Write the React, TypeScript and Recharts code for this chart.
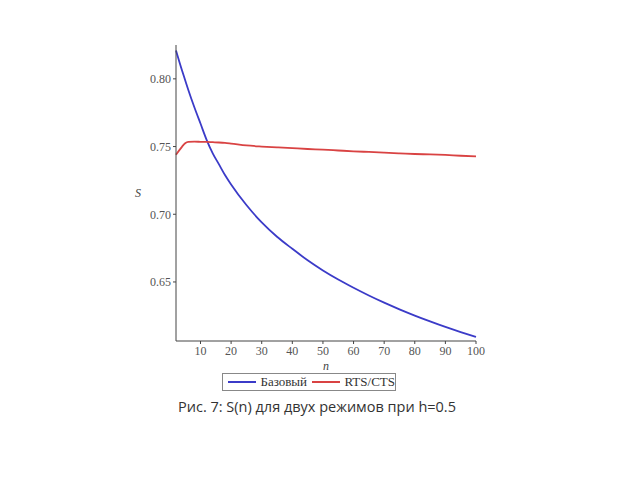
import { LineChart, Line, XAxis, YAxis } from 'recharts';

// n values and S(n) for each mode
const nValues = [2, 4, 5, 6, 8, 10, 12, 14, 16, 18, 20, 25, 30, 35, 40, 45, 50, 55, 60, 65, 70, 75, 80, 85, 90, 95, 100];
const baseSeries = [
  0.821, 0.806, 0.799, 0.792, 0.779, 0.767, 0.755, 0.745, 0.737, 0.729, 0.722, 0.7068, 0.694, 0.6834, 0.6745,
  0.666, 0.6585, 0.6518, 0.6457, 0.64, 0.6347, 0.6298, 0.6252, 0.6209, 0.6168, 0.613, 0.6094,
];
const rtsSeries = [
  0.744, 0.75, 0.7525, 0.7535, 0.7536, 0.7535, 0.7534, 0.7532, 0.753, 0.7527, 0.7522, 0.7508, 0.75, 0.7494,
  0.7488, 0.7482, 0.7477, 0.7471, 0.7465, 0.746, 0.7455, 0.745, 0.7445, 0.7442, 0.7438, 0.7432, 0.7428,
];
const xTicks = [10, 20, 30, 40, 50, 60, 70, 80, 90, 100];
const yTicks = [0.65, 0.7, 0.75, 0.8];

const seriesNames = ['Базовый', 'RTS/CTS'];
const caption = 'Рис. 7: S(n) для двух режимов при h=0.5';

const data = nValues.map((n, i) => ({ n, base: baseSeries[i], rts: rtsSeries[i] }));

const BLUE = '#3b3bc8';
const RED = '#d94343';
const tickStyle = { fontFamily: '"Liberation Serif", serif', fontSize: 12, fill: '#555' };

export default function App() {
  return (
    <div style={{ position: 'absolute', left: 0, top: 0, width: 640, height: 480, background: '#fff' }}>
      <LineChart width={640} height={480} data={data} margin={{ top: 45, right: 164, bottom: 110, left: 136 }}>
        <XAxis
          dataKey='n'
          type='number'
          domain={[2, 100]}
          ticks={xTicks}
          tick={tickStyle}
          tickSize={3}
          stroke='#444'
          height={29}
          label={{ value: 'n', position: 'insideBottom', offset: 0, style: { ...tickStyle, fontStyle: 'italic', fill: '#444' } }}
        />
        <YAxis
          type='number'
          domain={[0.6064, 0.825]}
          ticks={yTicks}
          tickFormatter={(v: number) => v.toFixed(2)}
          tick={tickStyle}
          tickSize={3}
          stroke='#444'
          width={40}
          label={{ value: 'S', position: 'insideLeft', offset: -1, style: { ...tickStyle, fontStyle: 'italic', fill: '#444' } }}
        />
        <Line type='monotone' dataKey='base' name={seriesNames[0]} stroke={BLUE} strokeWidth={1.8} dot={false} isAnimationActive={false} />
        <Line type='monotone' dataKey='rts' name={seriesNames[1]} stroke={RED} strokeWidth={1.8} dot={false} isAnimationActive={false} />
      </LineChart>

      <div
        style={{
          position: 'absolute',
          left: 222,
          top: 373,
          width: 174,
          height: 18,
          border: '1px solid #888',
          display: 'flex',
          alignItems: 'center',
          fontFamily: '"Liberation Serif", serif',
          fontSize: 13,
          color: '#333',
          boxSizing: 'border-box',
          paddingLeft: 5,
        }}
      >
        <span style={{ display: 'inline-block', width: 29, height: 2, background: BLUE, marginRight: 4 }} />
        <span>{seriesNames[0]}</span>
        <span style={{ display: 'inline-block', width: 29, height: 2, background: RED, margin: '0 4px 0 5px' }} />
        <span>{seriesNames[1]}</span>
      </div>

      <div
        style={{
          position: 'absolute',
          left: 0,
          width: 634,
          top: 397,
          textAlign: 'center',
          fontFamily: '"Open Sans", sans-serif',
          fontSize: 14.5,
          color: '#333',
        }}
      >
        {caption}
      </div>
    </div>
  );
}
